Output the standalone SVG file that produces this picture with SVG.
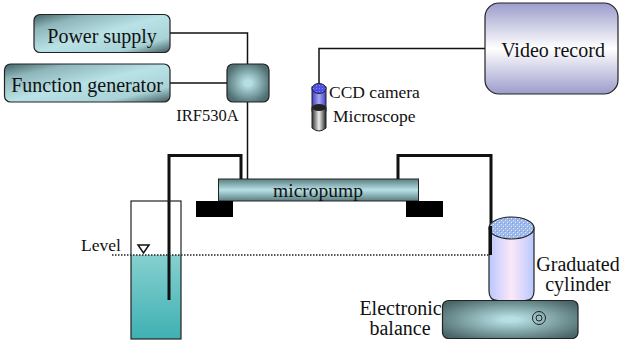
<svg xmlns="http://www.w3.org/2000/svg" width="619" height="340" viewBox="0 0 619 340">
<style>
text{font-family:"Liberation Serif","Times New Roman",serif;fill:#111}
.b{stroke:#222;stroke-width:1.2}
.w{fill:none;stroke:#111;stroke-width:1.5}
.t{fill:none;stroke:#111;stroke-width:3}
</style>
<defs>
<linearGradient id="g1" x1="0" y1="0" x2="1" y2="1"><stop offset="0" stop-color="#3f6468"/><stop offset=".2" stop-color="#8fb6ba"/><stop offset=".5" stop-color="#b8e2e6"/><stop offset=".8" stop-color="#a8d2d6"/><stop offset="1" stop-color="#40585c"/></linearGradient>
<radialGradient id="g2" cx=".5" cy=".5" r=".55"><stop offset=".15" stop-color="#b5dfe3"/><stop offset="1" stop-color="#4f6f72"/></radialGradient>
<radialGradient id="g3" cx=".5" cy=".5" r=".62"><stop offset=".1" stop-color="#b5dfe3"/><stop offset="1" stop-color="#4a6668"/></radialGradient>
<linearGradient id="g4" x1="0" y1="0" x2="0" y2="1"><stop offset="0" stop-color="#9c9ccc"/><stop offset=".5" stop-color="#fff"/><stop offset="1" stop-color="#9c9ccc"/></linearGradient>
<linearGradient id="g5" x1="0" y1="0" x2="0" y2="1"><stop offset="0" stop-color="#5a7d80"/><stop offset=".5" stop-color="#b8e2e6"/><stop offset="1" stop-color="#5a7d80"/></linearGradient>
<linearGradient id="g6" x1="0" y1="0" x2="0" y2="1"><stop offset="0" stop-color="#86d0cf"/><stop offset="1" stop-color="#3fb0b2"/></linearGradient>
<linearGradient id="g7" x1="0" y1="0" x2="1" y2="0"><stop offset="0" stop-color="#b8c8ff"/><stop offset=".5" stop-color="#fde8f8"/><stop offset="1" stop-color="#b8c8ff"/></linearGradient>
<linearGradient id="g8" x1="0" y1="0" x2="1" y2="0"><stop offset="0" stop-color="#333"/><stop offset=".5" stop-color="#eee"/><stop offset="1" stop-color="#222"/></linearGradient>
<linearGradient id="g9" x1="0" y1="0" x2="1" y2="0"><stop offset="0" stop-color="#3e3ec8"/><stop offset=".5" stop-color="#a8a8f0"/><stop offset="1" stop-color="#3e3ec8"/></linearGradient>
<radialGradient id="g10" cx=".5" cy=".5" r=".6"><stop offset="0" stop-color="#c8d8f4"/><stop offset="1" stop-color="#7fa4e4"/></radialGradient>
<pattern id="sp" width="4" height="4" patternUnits="userSpaceOnUse"><rect width="4" height="4" fill="#9db8ea"/><rect width="1" height="1" x="1" fill="#dfe8f8"/><rect width="1" height="1" x="3" y="2" fill="#e8eefa"/><rect width="1" height="1" y="3" fill="#7f9fe0"/></pattern>
<pattern id="sp2" width="3" height="3" patternUnits="userSpaceOnUse"><rect width="3" height="3" fill="#4e4ee8"/><rect width="1" height="1" x="1" y="1" fill="#8c8cf4"/></pattern>
</defs>

<g id="connectors">
<path class="w" d="M170 33H247.500V64"/>
<path class="w" d="M170 83H227"/>
<path class="w" d="M247.500 102V179"/>
<path class="w" d="M319 85V48.500H485"/>
<path class="t" d="M169 300V155.500H241V179"/>
<path class="t" d="M398 179V155.500H491V255"/>
</g>

<g id="power-supply"><rect class="b" x="34" y="14.500" width="136" height="38" rx="6" fill="url(#g1)"/><text x="102" y="42.500" text-anchor="middle" font-size="20">Power supply</text></g>
<g id="function-generator"><rect class="b" x="4.500" y="64" width="165.500" height="38" rx="6" fill="url(#g1)"/><text x="87" y="91.500" text-anchor="middle" font-size="20">Function generator</text></g>
<g id="irf530a"><rect class="b" x="227" y="64" width="42" height="38" rx="6" fill="url(#g2)"/><text x="207.500" y="120.500" text-anchor="middle" font-size="16.500">IRF530A</text></g>

<g id="video-record"><rect class="b" x="485" y="3" width="133" height="91" rx="14" fill="url(#g4)"/><text x="553" y="57" text-anchor="middle" font-size="20">Video record</text></g>

<g id="ccd-camera"><rect x="312" y="87" width="14" height="24" fill="url(#g9)" stroke="#222"/><ellipse cx="319" cy="88.500" rx="7" ry="5" fill="url(#sp2)" stroke="#222"/><text x="329" y="98" font-size="17.500">CCD camera</text></g>
<g id="microscope"><path d="M312 107V128Q319 134 326 128V107Z" fill="url(#g8)" stroke="#222"/><ellipse cx="319" cy="107.500" rx="7" ry="3.500" fill="#222"/><text x="333" y="122" font-size="17.500">Microscope</text></g>

<g id="micropump"><rect x="218.500" y="179" width="200" height="22" fill="url(#g5)" stroke="#222"/><text x="318" y="197" text-anchor="middle" font-size="19.500">micropump</text><rect x="196" y="201" width="37" height="16" fill="#000"/><rect x="406" y="201" width="37" height="16" fill="#000"/></g>

<g id="beaker"><rect x="131" y="255" width="50" height="84" fill="url(#g6)"/><rect x="131" y="201" width="50" height="138" fill="none" stroke="#222" stroke-width="1.200"/></g>
<path class="t" d="M169 255V300"/>
<g id="level"><text x="81" y="251" font-size="17.500">Level</text><path d="M138 245H149L143.500 253Z" fill="#fff" stroke="#111" stroke-width="1.500"/></g>
<path d="M112 255H490" fill="none" stroke="#222" stroke-width="1.500" stroke-dasharray="1.500 1.500"/>

<g id="graduated-cylinder"><path d="M489 228V291Q489 300.500 498 300.500H525Q534 300.500 534 291V228Z" fill="url(#g7)" stroke="#222" stroke-width="1.200"/><ellipse cx="511.500" cy="228" rx="22.500" ry="11" fill="url(#sp)" stroke="#222" stroke-width="1.200"/><path d="M490.500 226V255" class="t"/><text x="578" y="271" text-anchor="middle" font-size="20">Graduated</text><text x="578" y="291" text-anchor="middle" font-size="20">cylinder</text></g>

<g id="electronic-balance"><rect class="b" x="442.500" y="300.500" width="135.500" height="38" rx="6" fill="url(#g3)"/><circle cx="539" cy="318" r="6.500" fill="none" stroke="#222"/><circle cx="539" cy="318" r="3" fill="none" stroke="#222"/><text x="400.500" y="315" text-anchor="middle" font-size="20">Electronic</text><text x="400" y="335" text-anchor="middle" font-size="20">balance</text></g>
</svg>
